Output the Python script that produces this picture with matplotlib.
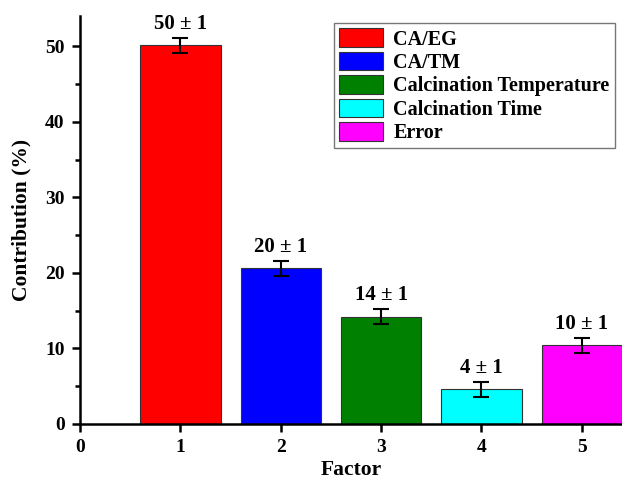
import matplotlib
matplotlib.use("Agg")
import matplotlib.pyplot as plt
from matplotlib.ticker import MultipleLocator

# data
factors = [1, 2, 3, 4, 5]
contrib = [50.1, 20.6, 14.2, 4.6, 10.4]
errs = [1, 1, 1, 1, 1]
labels = ["50 ± 1", "20 ± 1", "14 ± 1", "4 ± 1", "10 ± 1"]
names = ["CA/EG", "CA/TM", "Calcination Temperature", "Calcination Time", "Error"]
colors = ["#ff0000", "#0000ff", "#008000", "#00ffff", "#ff00ff"]

plt.rcParams["font.family"] = ["Liberation Serif", "DejaVu Serif"]
plt.rcParams["font.weight"] = "bold"

fig = plt.figure(figsize=(6.22, 4.8), dpi=100)
ax = fig.add_axes([0.1286, 0.1167, 0.8714, 0.85])

bars = ax.bar(factors, contrib, width=0.8, color=colors, edgecolor="#333333",
              linewidth=0.8, label=names, zorder=2)
ax.errorbar(factors, contrib, yerr=errs, fmt="none", ecolor="black",
            elinewidth=1.5, capsize=6, capthick=1.5, zorder=3)

for x, y, e, t in zip(factors, contrib, errs, labels):
    ax.annotate(t, (x, y + e), xytext=(0, 3), textcoords="offset points",
                ha="center", va="bottom", fontsize=15, fontweight="bold")

ax.set_xlim(0, 5.4)
ax.set_ylim(0, 54)
ax.xaxis.set_major_locator(MultipleLocator(1))
ax.yaxis.set_major_locator(MultipleLocator(10))
ax.yaxis.set_minor_locator(MultipleLocator(5))

for s in ["top", "right"]:
    ax.spines[s].set_visible(False)
for s in ["left", "bottom"]:
    ax.spines[s].set_linewidth(1.8)

ax.tick_params(axis="both", which="major", direction="out", length=6, width=1.8,
               labelsize=14, pad=5)
ax.tick_params(axis="y", which="minor", direction="out", length=3.5, width=1.8)
for lab in ax.get_xticklabels() + ax.get_yticklabels():
    lab.set_fontweight("bold")

ax.set_xlabel("Factor", fontsize=15.5, fontweight="bold", labelpad=3)
ax.set_ylabel("Contribution (%)", fontsize=15.5, fontweight="bold", labelpad=10)

leg = ax.legend(loc="upper right", bbox_to_anchor=(0.994, 0.992), fontsize=14.5,
                frameon=True, fancybox=False, edgecolor="#555555",
                handlelength=2.2, handleheight=1.05, handletextpad=0.5,
                labelspacing=0.11, borderpad=0.25, borderaxespad=0.2)
leg.get_frame().set_linewidth(1.0)
for t in leg.get_texts():
    t.set_fontweight("bold")

fig.savefig("out.png", dpi=100)
